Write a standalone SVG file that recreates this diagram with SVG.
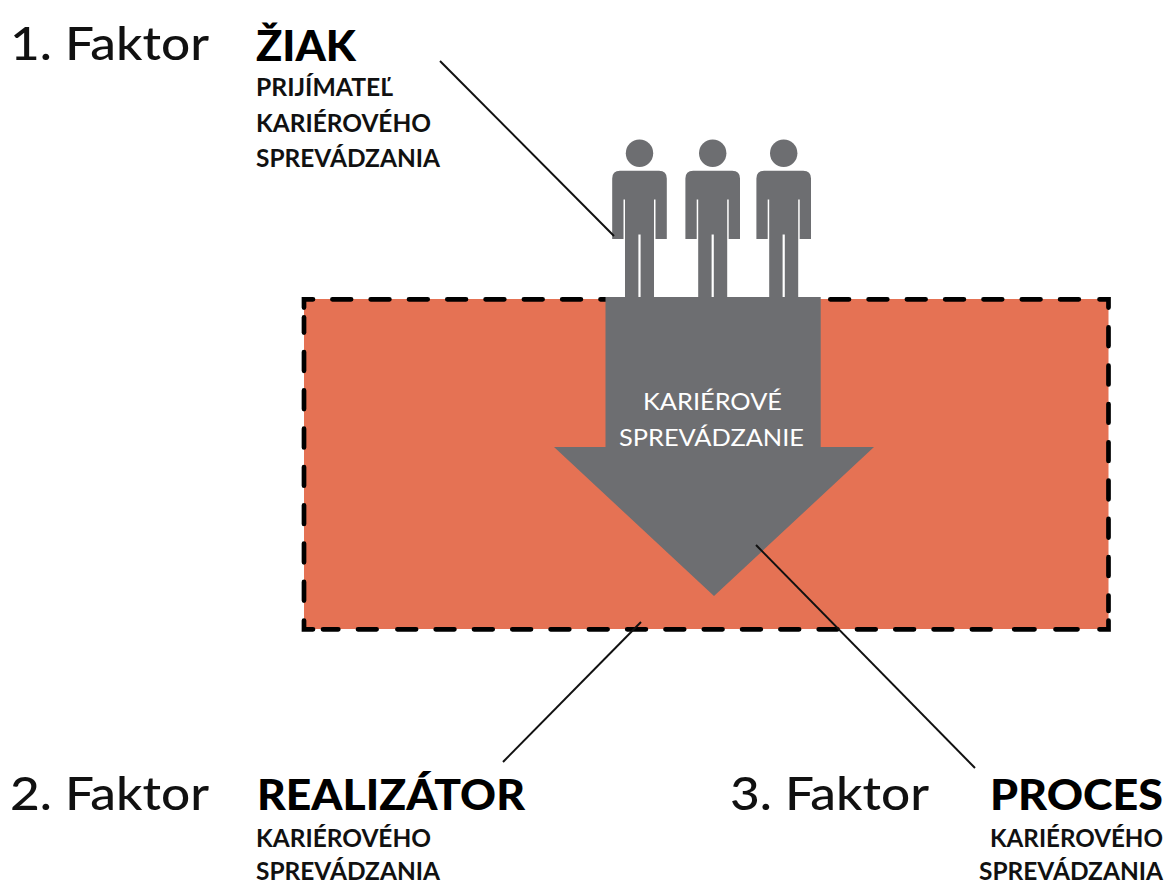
<svg xmlns="http://www.w3.org/2000/svg" width="1169" height="885" viewBox="0 0 1169 885">
<style>
text{font-family:Lato,"Open Sans",sans-serif}
.f{font-size:47px;font-weight:500;fill:#111}
.h{font-size:42px;font-weight:900;fill:#000}
.s{font-size:24.500px;font-weight:700;fill:#111}
.w{font-size:24px;fill:#fff}
.l{stroke:#111;stroke-width:2;fill:none}
.p{fill:#6d6e71}
.d{stroke:#000;stroke-width:4.700;stroke-linecap:round;fill:none;stroke-dasharray:18.700 19.600}
.c{stroke:#000;stroke-width:4.700;stroke-linejoin:miter;stroke-linecap:round;fill:none}
</style>
<defs>
<g id="person">
<circle cx="0" cy="153.300" r="13.700"/>
<path d="M-19.500 170.700H19.500Q27.300 170.700 27.300 178.500V239H16V199.500H14.500V298H1.100V234.500H-1.100V298H-14.500V199.500H-16V239H-27.300V178.500Q-27.300 170.700 -19.500 170.700Z"/>
</g>
</defs>
<g id="box">
<rect x="304" y="299" width="804.500" height="330" fill="#e57254"/>
<path class="c" d="M304 307.600V299.300H313"/>
<path class="c" d="M1099.500 299.300H1108.500V307.600"/>
<path class="c" d="M1108.500 620.500V629.300H1099.500"/>
<path class="c" d="M313 629.300H304V620.500"/>
<path class="d" d="M332.400 299.300H1079"/>
<path class="d" d="M1108.500 327.400V611"/>
<path class="d" d="M990.600 629.300H396.500"/>
<path class="c" d="M1077.500 629.300H1055.500M1034.500 629.300H1014.200M376.600 629.300H358M338.300 629.300H323"/>
<path class="d" d="M304 600.600V352"/>
<path class="c" d="M304 332.600V317.400"/>
</g>
<g id="people" class="p">
<use href="#person" x="639.500"/><use href="#person" x="712.700"/><use href="#person" x="783.700"/>
</g>
<g id="arrow"><path class="p" d="M605.500 297H820.700V447H874L714 596L554 447H605.500Z"/>
<text class="w" x="643" y="410" textLength="139" lengthAdjust="spacingAndGlyphs">KARIÉROVÉ</text><text class="w" x="619" y="446" textLength="185" lengthAdjust="spacingAndGlyphs">SPREVÁDZANIE</text></g>
<g id="connectors">
<path class="l" d="M440 61L614 236"/><path class="l" d="M503 762L641 622"/><path class="l" d="M756 545L975 768"/>
</g>
<g id="f1"><text class="f" x="10" y="60" textLength="199" lengthAdjust="spacingAndGlyphs">1. Faktor</text><text class="h" x="256" y="61" textLength="100" lengthAdjust="spacingAndGlyphs">ŽIAK</text><text class="s" x="256" y="96" textLength="137" lengthAdjust="spacingAndGlyphs">PRIJÍMATEĽ</text><text class="s" x="256" y="132" textLength="175" lengthAdjust="spacingAndGlyphs">KARIÉROVÉHO</text><text class="s" x="256" y="167" textLength="184" lengthAdjust="spacingAndGlyphs">SPREVÁDZANIA</text></g>
<g id="f2"><text class="f" x="10" y="810" textLength="199" lengthAdjust="spacingAndGlyphs">2. Faktor</text><text class="h" x="257" y="810" textLength="268" lengthAdjust="spacingAndGlyphs">REALIZÁTOR</text><text class="s" x="256" y="847" textLength="175" lengthAdjust="spacingAndGlyphs">KARIÉROVÉHO</text><text class="s" x="256" y="880" textLength="184" lengthAdjust="spacingAndGlyphs">SPREVÁDZANIA</text></g>
<g id="f3"><text class="f" x="730" y="810" textLength="199" lengthAdjust="spacingAndGlyphs">3. Faktor</text><text class="h" x="990" y="810" textLength="173" lengthAdjust="spacingAndGlyphs">PROCES</text><text class="s" x="990" y="847" textLength="173" lengthAdjust="spacingAndGlyphs">KARIÉROVÉHO</text><text class="s" x="979" y="880" textLength="184" lengthAdjust="spacingAndGlyphs">SPREVÁDZANIA</text></g>
</svg>
